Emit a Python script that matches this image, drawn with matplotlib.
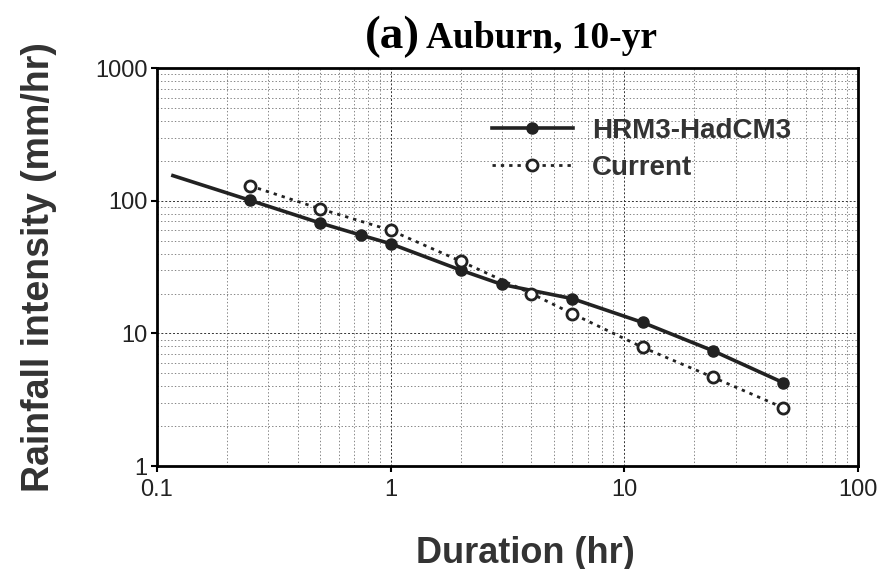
import matplotlib.pyplot as plt
from matplotlib.ticker import LogLocator, NullFormatter, FixedLocator, FixedFormatter

# durations (hr) and intensities (mm/hr)
hrm_dur = [0.117, 0.25, 0.5, 0.75, 1, 2, 3, 6, 12, 24, 48]
hrm_int = [155, 101, 68, 55, 47.5, 30, 23.4, 18.3, 12.1, 7.4, 4.25]

cur_dur = [0.25, 0.5, 1, 2, 4, 6, 12, 24, 48]
cur_int = [130, 87, 60, 35, 20, 14.1, 7.85, 4.67, 2.75]

x_ticks = [0.1, 1, 10, 100]
x_labels = ['0.1', '1', '10', '100']
y_ticks = [1, 10, 100, 1000]
y_labels = ['1', '10', '100', '1000']

fig = plt.figure(figsize=(8.87, 5.69), dpi=100)
ax = fig.add_axes([0.177, 0.181, 0.790, 0.699])

ax.set_xscale('log')
ax.set_yscale('log')
ax.set_xlim(0.1, 100)
ax.set_ylim(1, 1000)

# scanned-looking grid
ax.grid(True, which='major', color='#333333', linestyle=(0, (2, 2)), linewidth=0.7)
ax.grid(True, which='minor', color='#555555', linestyle=(0, (2, 3)), linewidth=0.5)
ax.set_axisbelow(True)

ax.plot(hrm_dur, hrm_int, '-', color='#222222', lw=2.6, marker='o', ms=8,
        markevery=list(range(1, len(hrm_dur))), label='HRM3-HadCM3')
ax.plot(cur_dur, cur_int, linestyle=(0, (1.2, 1.8)), color='#222222', lw=2,
        marker='o', ms=8, mfc='white', mew=2, label='Current')

ax.xaxis.set_major_locator(FixedLocator(x_ticks))
ax.xaxis.set_major_formatter(FixedFormatter(x_labels))
ax.yaxis.set_major_locator(FixedLocator(y_ticks))
ax.yaxis.set_major_formatter(FixedFormatter(y_labels))
ax.xaxis.set_minor_locator(LogLocator(base=10, subs=range(2, 10)))
ax.yaxis.set_minor_locator(LogLocator(base=10, subs=range(2, 10)))
ax.xaxis.set_minor_formatter(NullFormatter())
ax.yaxis.set_minor_formatter(NullFormatter())
ax.tick_params(which='major', length=4, width=1.5, labelsize=17, pad=3)
ax.tick_params(axis='x', which='major', pad=5)
ax.tick_params(which='minor', length=0)
for lab in ax.get_xticklabels() + ax.get_yticklabels():
    lab.set_fontfamily('Liberation Sans')
    lab.set_color('#222222')

for s in ax.spines.values():
    s.set_linewidth(2)

ax.set_xlabel('Duration (hr)', fontsize=26, fontweight='bold',
              family='Liberation Sans', color='#333333')
ax.xaxis.set_label_coords(0.525, -0.175)
ax.set_ylabel('Rainfall intensity (mm/hr)', fontsize=27, fontweight='bold',
              family='Liberation Sans', color='#333333', labelpad=27)

leg = ax.legend(loc='upper left', bbox_to_anchor=(0.478, 0.875), frameon=False,
                prop={'family': 'Liberation Sans', 'weight': 'bold', 'size': 20},
                handlelength=2.9, handletextpad=0.7, labelspacing=0.38,
                borderpad=0, borderaxespad=0)
for t in leg.get_texts():
    t.set_color('#333333')

fig.text(0.474, 0.935, '(a)', fontsize=34, fontweight='bold',
         family='Liberation Serif', ha='right', va='center')
fig.text(0.480, 0.932, 'Auburn, 10-yr', fontsize=27, fontweight='bold',
         family='Liberation Serif', ha='left', va='center')

fig.savefig('out.png', dpi=100)
